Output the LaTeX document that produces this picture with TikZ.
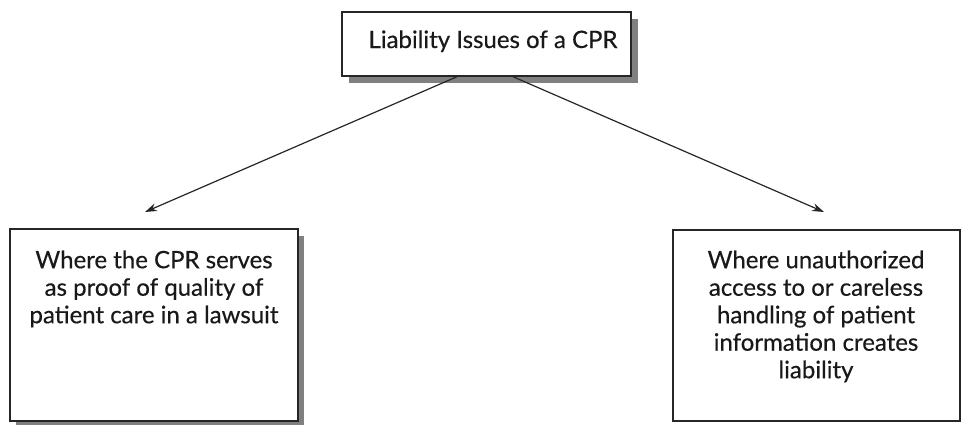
\documentclass[tikz,border=0pt]{standalone}
\usepackage{fontspec}
\setmainfont{Lato}[FakeBold=0.4]
\usetikzlibrary{arrows.meta}
\begin{document}
\begin{tikzpicture}[x=1pt,y=-1pt,
  box/.style={draw=black!85, line width=1.4pt, fill=white, inner sep=0pt},
  shade/.style={fill=black!50, draw=none},
  textfont/.style={font=\fontsize{24}{27.5}\selectfont, text=black!90},
  label/.style={textfont, align=center},
  link/.style={draw=black!85, line width=1.2pt, -{Stealth[length=12pt,width=8pt]}}]
\useasboundingbox (0,0) rectangle (962,424);
% top box with drop shadow
\fill[shade] (349,19) rectangle (638,83);
\node[box, minimum width=289pt, minimum height=64pt] (top) at (486.5,44) {};
\node[textfont, anchor=base, inner sep=0pt] (toptext) at (493,48) {Liability Issues of a CPR};
% left box with drop shadow
\fill[shade] (16,236) rectangle (304,428);
\node[box, minimum width=288pt, minimum height=192pt] (left) at (154,325) {};
\node[label, anchor=north] (lefttext) at (154,247) {Where the CPR serves\\as proof of quality of\\patient care in a lawsuit};
% right box
\node[box, minimum width=287pt, minimum height=191pt] (right) at (816.5,325.5) {};
\node[label, anchor=north] (righttext) at (816,247) {Where unauthorized\\access to or careless\\handling of patient\\information creates\\liability};
% connectors
\coordinate (ltip) at (145,212);
\coordinate (rtip) at (824,212);
\draw[link] (top.south -| 457,0) -- (ltip);
\draw[link] (top.south -| 513,0) -- (rtip);
\end{tikzpicture}
\end{document}
